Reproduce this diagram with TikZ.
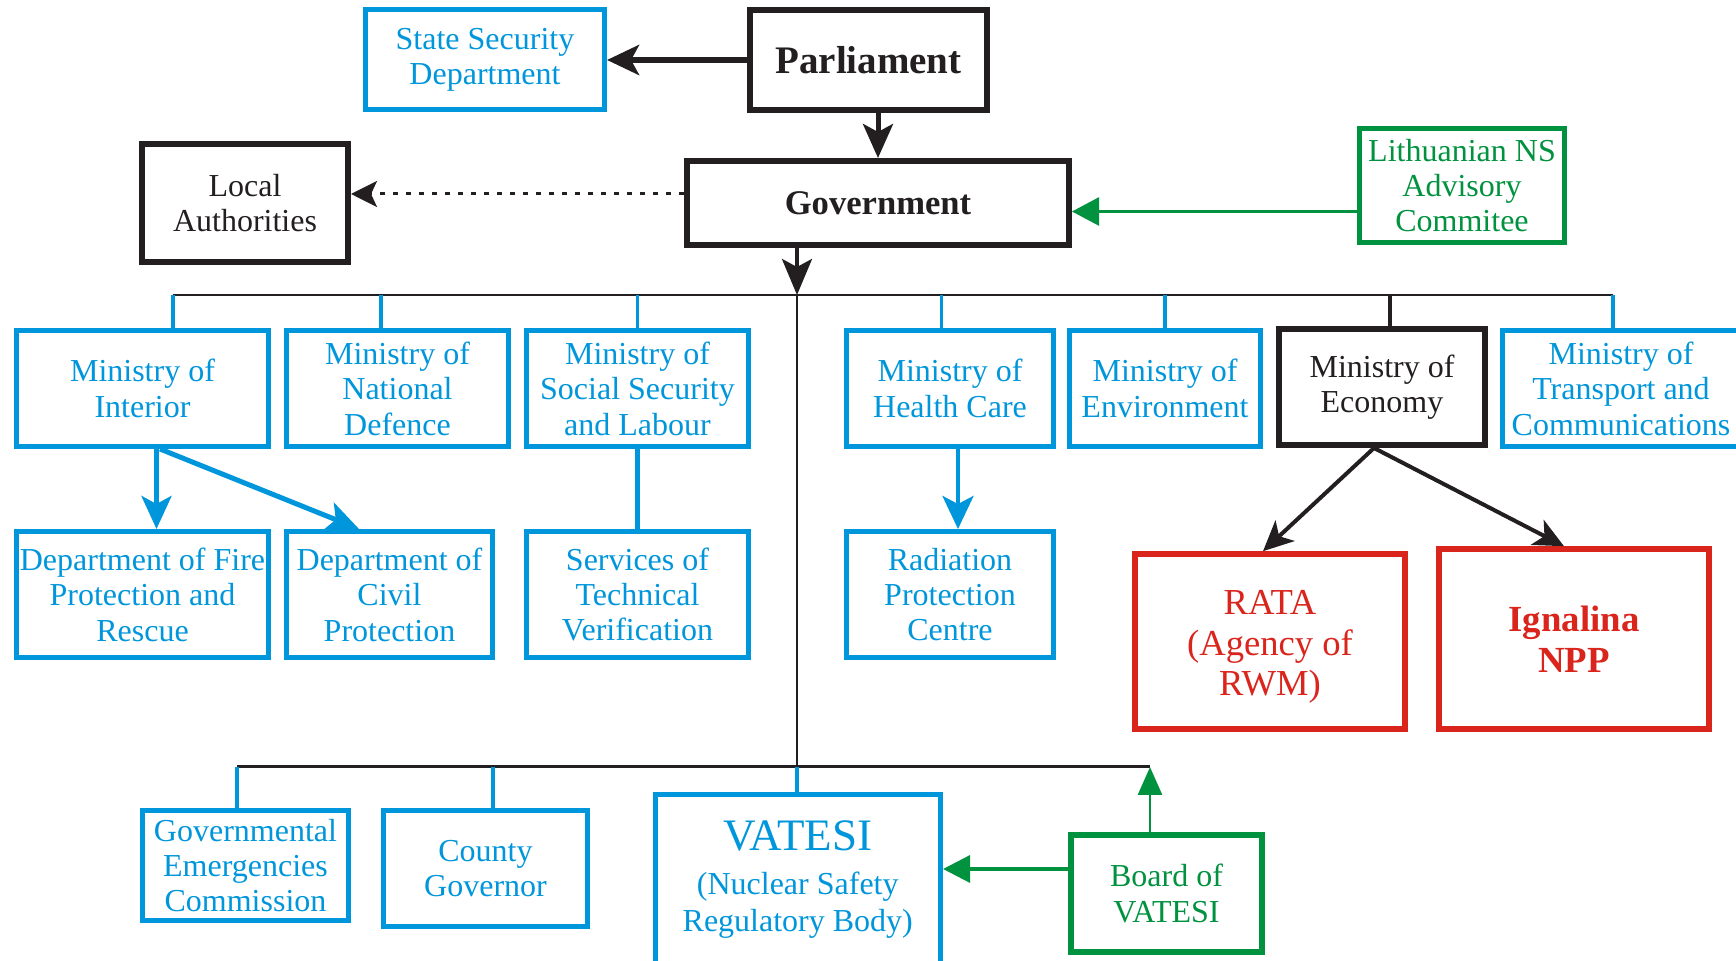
\documentclass[tikz,border=0pt]{standalone}
\usepackage{fontspec}
\setmainfont{Liberation Serif}
\usetikzlibrary{arrows.meta}
\definecolor{cblue}{RGB}{0,150,219}
\definecolor{cgreen}{RGB}{0,146,63}
\definecolor{cred}{RGB}{218,37,29}
\definecolor{cblack}{RGB}{35,31,32}
\newcommand\fsz[2]{\fontsize{#1}{#2}\selectfont}
\begin{document}
\begin{tikzpicture}[x=0.5pt,y=-0.5pt,
  box/.style={draw, fill=white, inner sep=0pt, align=center, font=\fsz{16}{17.7}},
  bbox/.style={box, draw=cblue, text=cblue, line width=2.5pt},
  kbox/.style={box, draw=cblack, text=cblack, line width=3pt},
  rbox/.style={box, draw=cred, text=cred, line width=2.8pt, font=\fsz{18.3}{20.25}},
  gbox/.style={box, draw=cgreen, text=cgreen, line width=2.6pt},
  sz/.style 2 args={minimum width=#1*0.5pt, minimum height=#2*0.5pt},
  bline/.style={draw=cblue, line width=1.8pt},
  kline/.style={draw=cblack, line width=1.3pt},
  gline/.style={draw=cgreen, line width=1.3pt},
  bigtip/.style={-{Stealth[length=16pt,width=15pt,inset=4pt]}},
]
\useasboundingbox (0,0) rectangle (1736,961);

% ---------- nodes ----------
\node[kbox,sz={237}{100},font=\bfseries\fsz{19.5}{22}] (parl) at (868.5,60) {Parliament};
\node[bbox,sz={239}{100}] (ssd) at (485,60) {State Security\\Department};
\node[kbox,sz={382}{84},font=\bfseries\fsz{17.3}{20}] (gov) at (878,203) {Government};
\node[kbox,sz={206}{118}] (loc) at (245,203) {Local\\Authorities};
\node[gbox,sz={205}{114}] (lith) at (1462,185.5) {Lithuanian NS\\Advisory\\Commitee};

\node[bbox,sz={252}{116}] (int) at (142.5,388.5) {Ministry of\\Interior};
\node[bbox,sz={222}{116}] (nd) at (397.5,388.5) {Ministry of\\National\\Defence};
\node[bbox,sz={222}{116}] (ss) at (637.5,388.5) {Ministry of\\Social Security\\and Labour};
\node[bbox,sz={206.5}{116}] (hc) at (950,388.5) {Ministry of\\Health Care};
\node[bbox,sz={190.5}{116}] (env) at (1165,388.5) {Ministry of\\Environment};
\node[kbox,sz={206}{116}] (eco) at (1382,387) {Ministry of\\Economy};
\node[bbox,sz={237}{116}] (tr) at (1621,388.5) {Ministry of\\Transport and\\Communications};

\node[bbox,sz={252}{126}] (fire) at (142.5,594.5) {Department of Fire\\Protection and\\Rescue};
\node[bbox,sz={206}{126}] (civ) at (389.5,594.5) {Department of\\Civil\\Protection};
\node[bbox,sz={222}{126}] (sv) at (637.5,594.5) {Services of\\Technical\\Verification};
\node[bbox,sz={206.5}{126}] (rad) at (950,594.5) {Radiation\\Protection\\Centre};

\node[rbox,sz={270}{175}] (rata) at (1270,641.5)
  {\raisebox{-2.75pt}[\height][\depth]{\begin{tabular}{@{}c@{}}RATA\\(Agency of\\RWM)\end{tabular}}};
\node[rbox,sz={270}{180},font=\bfseries\fsz{18.4}{20.5}] (ign) at (1574,639) {Ignalina\\NPP};

\node[bbox,sz={206}{110}] (gec) at (245.5,865.5) {Governmental\\Emergencies\\Commission};
\node[bbox,sz={204}{116}] (cg) at (485.5,868.5) {County\\Governor};
\node[bbox,sz={285.5}{171},font=\fsz{16}{18.5}] (vat) at (797.75,880) {{\fsz{22.5}{22}VATESI}\\[3.5pt](Nuclear Safety\\Regulatory Body)};
\node[gbox,sz={191}{117},line width=2.8pt] (board) at (1166.5,893.5) {Board of\\VATESI};

% ---------- coordinates ----------
\coordinate (bt) at (797,295);
\coordinate (tbL) at (173,295);
\coordinate (tbR) at (1613,295);
\coordinate (dnd) at (381,295);
\coordinate (dss) at (637.5,295);
\coordinate (dhc) at (941.5,295);
\coordinate (denv) at (1165,295);
\coordinate (deco) at (1390,295);
\coordinate (lb) at (797,767);
\coordinate (lbL) at (237,767);
\coordinate (lbR) at (1150,767);
\coordinate (dcg) at (493,767);

% ---------- connectors ----------
\draw[draw=cblack,line width=3pt,bigtip] (parl.west) -- (ssd.east);
\draw[draw=cblack,line width=2.5pt,-{Stealth[length=17pt,width=15pt,inset=4pt]}] (parl.south -| gov.north) -- (gov.north);
\draw[draw=cblack,line width=1.8pt,-{Stealth[length=18pt,width=15pt,inset=4pt]}] (gov.south -| bt) -- (bt);
\draw[draw=cblack,line width=1.5pt,dash pattern=on 2.5pt off 4pt,-{Stealth[length=13pt,width=13pt,inset=3pt]}]
  ([yshift=4.5pt]gov.west) -- ([yshift=4.5pt]gov.west -| loc.east);
\draw[gline,-{Stealth[length=13.5pt,width=14pt,inset=0pt]}]
  ([yshift=-13pt]lith.west) -- ([yshift=-13pt]lith.west -| gov.east);

% top bus and drops
\draw[kline] (tbL) -- (tbR);
\draw[kline,line width=1pt] (bt) -- (lb);
\draw[bline] (tbL) -- (tbL |- int.north);
\draw[bline] (dnd) -- (dnd |- nd.north);
\draw[bline] (dss) -- (dss |- ss.north);
\draw[bline] (dhc) -- (dhc |- hc.north);
\draw[bline] (denv) -- (denv |- env.north);
\draw[draw=cblack,line width=2pt] (deco) -- (deco |- eco.north);
\draw[bline] (tbR) -- (tbR |- tr.north);

% ministry children
\draw[bline,line width=2.5pt,-{Stealth[length=16.5pt,width=15pt,inset=4pt]}]
  ([xshift=7pt]int.south) -- ([xshift=7pt]int.south |- fire.north);
\draw[bline,line width=2.5pt,-{Stealth[length=16.5pt,width=15pt,inset=4pt]}]
  ([xshift=8.75pt]int.south) -- ([xshift=-15.25pt]civ.north);
\draw[bline,line width=2.2pt] (ss.south) -- (sv.north);
\draw[bline,line width=2.2pt,-{Stealth[length=16.5pt,width=15.5pt,inset=4pt]}]
  ([xshift=4pt]hc.south) -- ([xshift=4pt]hc.south |- rad.north);
\draw[draw=cblack,line width=2pt,-{Stealth[length=15pt,width=14pt,inset=4pt]}]
  ([xshift=-4pt]eco.south) -- ([xshift=-3.5pt]rata.north);
\draw[draw=cblack,line width=2pt,-{Stealth[length=15pt,width=14pt,inset=4pt]}]
  ([xshift=-4pt]eco.south) -- ([xshift=-5pt]ign.north);

% lower bus
\draw[kline,line width=1.5pt] (lbL) -- (lbR);
\draw[bline,line width=2pt] (lbL) -- (lbL |- gec.north);
\draw[bline,line width=2pt] (dcg) -- (dcg |- cg.north);
\draw[bline,line width=2pt] (lb) -- (lb |- vat.north);
\draw[gline,line width=1.4pt,-{Stealth[length=14pt,width=12pt,inset=0pt]}] (board.north -| lbR) -- (lbR);
\draw[gline,line width=1.6pt,-{Stealth[length=13.5pt,width=13.5pt,inset=0pt]}]
  ([yshift=12.25pt]board.west) -- ([yshift=12.25pt]board.west -| vat.east);
\end{tikzpicture}
\end{document}
